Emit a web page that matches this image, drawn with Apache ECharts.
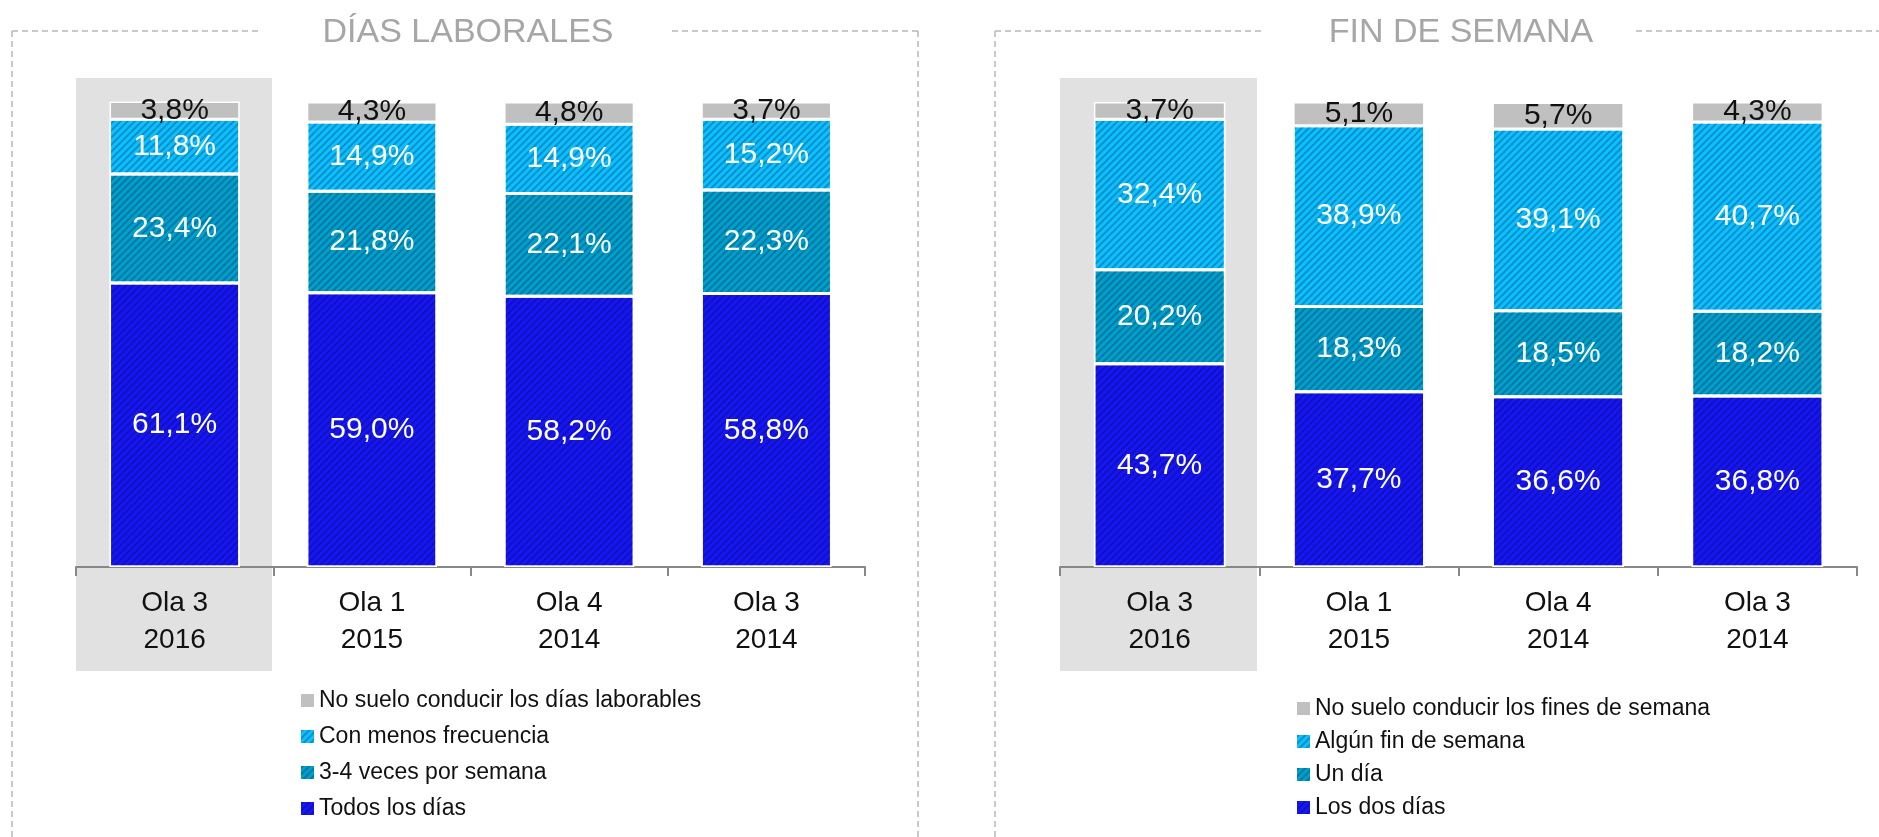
<!DOCTYPE html>
<html lang="es">
<head>
    <meta charset="UTF-8">
    <title>conducción</title>
    <script src="https://cdn.jsdelivr.net/npm/echarts@6/dist/echarts.min.js"></script>
    <style type="text/css">
        body {
            margin: 0;
            padding: 0;
            background-color: #fff;
        }

        #chart {
            width: 1879px;
            height: 837px;
        }
    </style>
</head>
<body>
<div id="chart"></div>

<script>
    // categorias (olas)
    var olas = ['Ola 3\n2016', 'Ola 1\n2015', 'Ola 4\n2014', 'Ola 3\n2014'];

    // dias laborales (%)
    var todosLosDias = [61.1, 59.0, 58.2, 58.8];
    var tresCuatroVeces = [23.4, 21.8, 22.1, 22.3];
    var menosFrecuencia = [11.8, 14.9, 14.9, 15.2];
    var noLaborables = [3.8, 4.3, 4.8, 3.7];

    // fin de semana (%)
    var losDosDias = [43.7, 37.7, 36.6, 36.8];
    var unDia = [20.2, 18.3, 18.5, 18.2];
    var algunFinde = [32.4, 38.9, 39.1, 40.7];
    var noFinde = [3.7, 5.1, 5.7, 4.3];

    var FONT = "'Liberation Sans Narrow', 'Arial Narrow', 'Liberation Sans', Arial, sans-serif";
    var colores = {
        azul: '#1616f4',
        teal: '#00a0cc',
        celeste: '#0cc0ff',
        gris: '#c0c0c0'
    };

    function rayado(c) {
        return {
            symbol: 'rect',
            symbolSize: 1,
            color: c,
            dashArrayX: [1, 0],
            dashArrayY: [2, 3],
            rotation: -Math.PI / 4
        };
    }

    function serie(nombre, datos, color, idx, stack, oscuro) {
        return {
            name: nombre,
            type: 'bar',
            stack: stack,
            xAxisIndex: idx,
            yAxisIndex: idx,
            barWidth: '66%',
            data: datos,
            itemStyle: {
                color: color,
                borderColor: '#fff',
                borderWidth: 1.5,
                decal: oscuro ? null : rayado('rgba(0,0,40,0.25)')
            },
            label: {
                show: true,
                position: 'inside',
                fontFamily: FONT,
                fontSize: 30,
                color: oscuro ? '#111' : '#fff',
                formatter: function (p) {
                    return p.value.toFixed(1).replace('.', ',') + '%';
                }
            }
        };
    }

    function eje(idx) {
        return {
            type: 'category',
            gridIndex: idx,
            data: olas,
            axisLine: {lineStyle: {color: '#888', width: 2}},
            axisTick: {show: true, length: 9, lineStyle: {color: '#888', width: 2}},
            axisLabel: {
                fontFamily: FONT,
                fontSize: 28,
                lineHeight: 37,
                color: '#111',
                margin: 18
            }
        };
    }

    function valor(idx) {
        return {type: 'value', gridIndex: idx, min: 0, max: 100, show: false};
    }

    function leyenda(nombres, x, y, gap) {
        return {
            orient: 'vertical', left: x, top: y, itemWidth: 13, itemHeight: 13, itemGap: gap,
            icon: 'rect',
            itemStyle: {borderWidth: 0},
            textStyle: {fontFamily: FONT, fontSize: 23, color: '#111'},
            data: nombres
        };
    }

    var dash = {stroke: '#b8b8b8', lineWidth: 1.5, lineDash: [6, 4]};

    function linea(x1, y1, x2, y2) {
        return {type: 'line', silent: true, shape: {x1: x1, y1: y1, x2: x2, y2: y2}, style: dash};
    }

    var chart = echarts.init(document.getElementById('chart'));
    chart.setOption({
        animation: false,
        title: [
            {
                text: 'DÍAS LABORALES', left: 463, top: 11, textAlign: 'center',
                textStyle: {fontFamily: FONT, fontSize: 34, fontWeight: 'normal', color: '#a6a6a6'}
            },
            {
                text: 'FIN DE SEMANA', left: 1456, top: 11, textAlign: 'center',
                textStyle: {fontFamily: FONT, fontSize: 34, fontWeight: 'normal', color: '#a6a6a6'}
            }
        ],
        graphic: [
            // marco izquierdo
            linea(12, 31, 258, 31),
            linea(672, 31, 918, 31),
            linea(12, 31, 12, 837),
            linea(918, 31, 918, 837),
            // marco derecho
            linea(995, 31, 1262, 31),
            linea(1636, 31, 1879, 31),
            linea(995, 31, 995, 837),
            // resaltado de la ola actual
            {type: 'rect', silent: true, z: -1, shape: {x: 76, y: 78, width: 196, height: 593}, style: {fill: '#e1e1e1'}},
            {type: 'rect', silent: true, z: -1, shape: {x: 1060, y: 78, width: 197, height: 593}, style: {fill: '#e1e1e1'}}
        ],
        legend: [
            leyenda(['No suelo conducir los días laborables', 'Con menos frecuencia', '3-4 veces por semana', 'Todos los días'], 296, 684, 13),
            leyenda(['No suelo conducir los fines de semana', 'Algún fin de semana', 'Un día', 'Los dos días'], 1292, 692, 10)
        ],
        grid: [
            {left: 76, width: 789, top: 102, height: 465},
            {left: 1060, width: 797, top: 102, height: 465}
        ],
        xAxis: [eje(0), eje(1)],
        yAxis: [valor(0), valor(1)],
        series: [
            serie('Todos los días', todosLosDias, colores.azul, 0, 'lab'),
            serie('3-4 veces por semana', tresCuatroVeces, colores.teal, 0, 'lab'),
            serie('Con menos frecuencia', menosFrecuencia, colores.celeste, 0, 'lab'),
            serie('No suelo conducir los días laborables', noLaborables, colores.gris, 0, 'lab', true),
            serie('Los dos días', losDosDias, colores.azul, 1, 'fin'),
            serie('Un día', unDia, colores.teal, 1, 'fin'),
            serie('Algún fin de semana', algunFinde, colores.celeste, 1, 'fin'),
            serie('No suelo conducir los fines de semana', noFinde, colores.gris, 1, 'fin', true)
        ]
    });
</script>
</body>
</html>
